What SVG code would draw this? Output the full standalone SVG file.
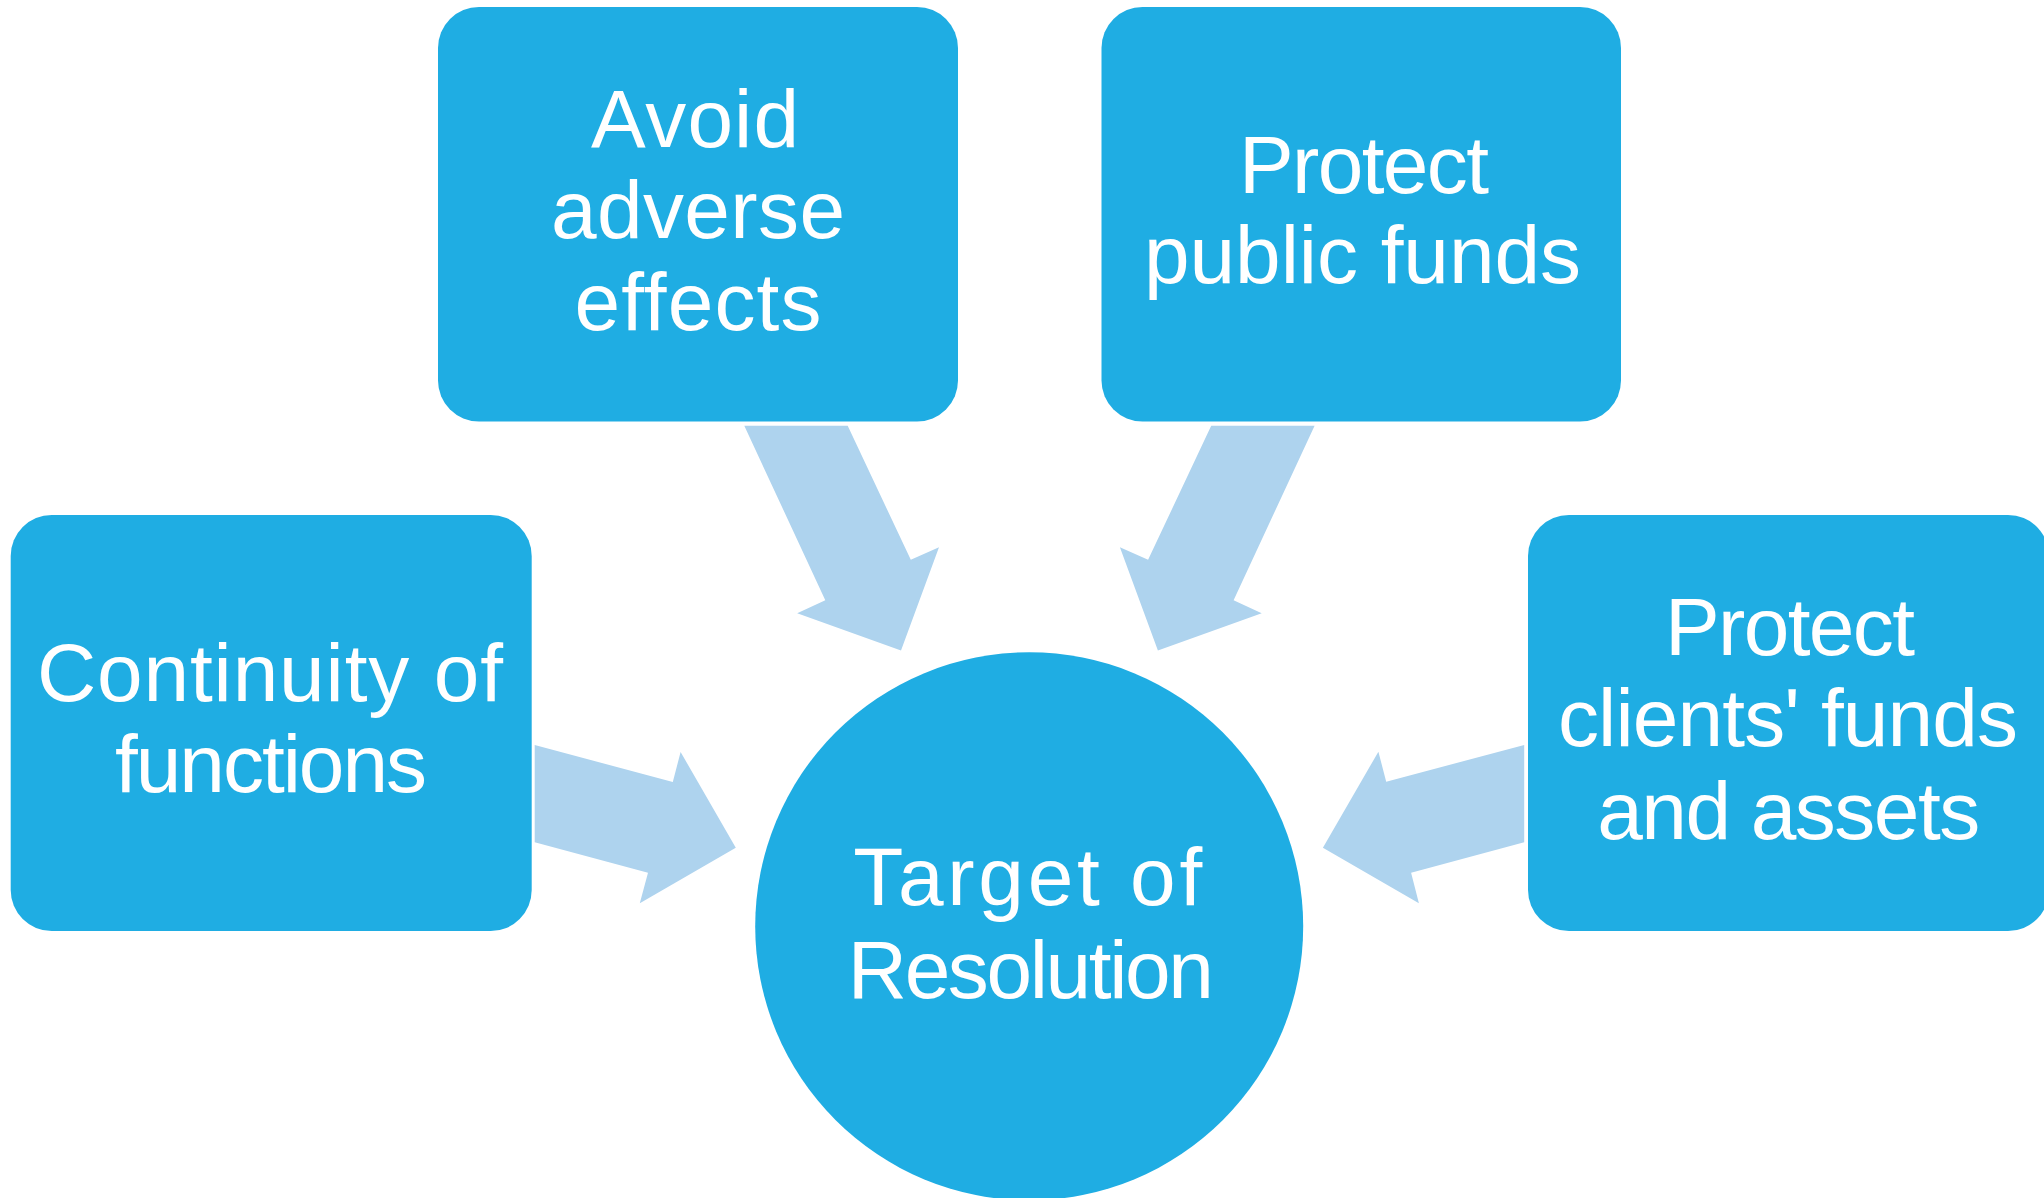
<svg xmlns="http://www.w3.org/2000/svg" width="2044" height="1198" viewBox="0 0 2044 1198">
  <style>
    .box { fill: #1FADE3; }
    .arrow { fill: #AED3EE; }
    .lbl { fill: #FFFFFF; font-family: "Liberation Sans", Arial, sans-serif; font-size: 82px; text-anchor: middle; }
  </style>
  <rect width="2044" height="1198" fill="#FFFFFF"/>
  <g id="connectors">
    <polygon class="arrow" points="534.7,745 672.8,782 680.6,752 735.8,847.7 639.8,903.3 648,872.7 534.7,842.3"/>
    <polygon class="arrow" points="1524.2,745 1386.2,781.7 1378.4,751.7 1322.9,847.7 1418.9,903.3 1411.1,872.7 1524.2,842.3"/>
    <polygon class="arrow" points="744.3,425.8 847.7,425.8 910.8,559.8 939,547.3 901,650.5 797.2,613.2 825.3,600.2"/>
    <polygon class="arrow" points="1314.6,425.8 1211.2,425.8 1148.1,559.8 1119.9,547.3 1157.9,650.5 1261.7,613.2 1233.6,600.2"/>
  </g>
  <g id="node-continuity">
    <rect class="box" x="10.7" y="515" width="521" height="416" rx="41" ry="41"/>
    <text class="lbl" x="270" y="701" textLength="466" lengthAdjust="spacing">Continuity of</text>
    <text class="lbl" x="271" y="792" textLength="312" lengthAdjust="spacing">functions</text>
  </g>
  <g id="node-avoid">
    <rect class="box" x="438" y="7" width="520" height="414.5" rx="41" ry="41"/>
    <text class="lbl" x="695" y="146.6" textLength="208" lengthAdjust="spacing">Avoid</text>
    <text class="lbl" x="698" y="237.6" textLength="294" lengthAdjust="spacing">adverse</text>
    <text class="lbl" x="698" y="330.4" textLength="247" lengthAdjust="spacing">effects</text>
  </g>
  <g id="node-public">
    <rect class="box" x="1101.5" y="7" width="519.5" height="414.5" rx="41" ry="41"/>
    <text class="lbl" x="1364" y="192.5" textLength="250" lengthAdjust="spacing">Protect</text>
    <text class="lbl" x="1362.5" y="282.7" textLength="437" lengthAdjust="spacing">public funds</text>
  </g>
  <g id="node-clients">
    <rect class="box" x="1528" y="515" width="521" height="416" rx="41" ry="41"/>
    <text class="lbl" x="1790" y="655.3" textLength="250" lengthAdjust="spacing">Protect</text>
    <text class="lbl" x="1788" y="746" textLength="460" lengthAdjust="spacing">clients' funds</text>
    <text class="lbl" x="1788.7" y="839.3" textLength="383" lengthAdjust="spacing">and assets</text>
  </g>
  <g id="node-target">
    <circle class="box" cx="1029.2" cy="926.3" r="274"/>
    <text class="lbl" x="1027.7" y="904.6" textLength="349" lengthAdjust="spacing">Target of</text>
    <text class="lbl" x="1030.8" y="997.8" textLength="366" lengthAdjust="spacing">Resolution</text>
  </g>
</svg>
